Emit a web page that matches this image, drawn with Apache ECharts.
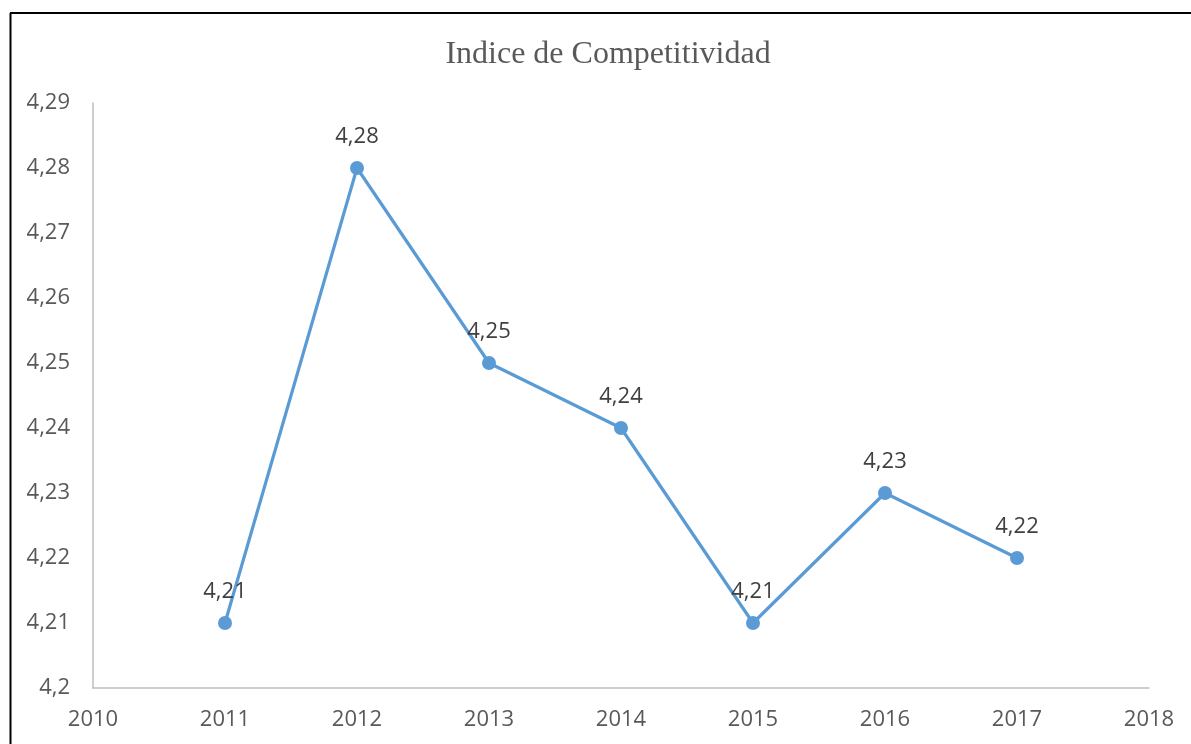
<!DOCTYPE html>
<html>
<head>
<meta charset="utf-8">
<script src="https://cdn.jsdelivr.net/npm/echarts@6/dist/echarts.min.js"></script>
<style>
html,body{margin:0;padding:0;background:#fff;}
#chart{width:1191px;height:744px;}
</style>
</head>
<body>
<div id="chart"></div>
<script>
const titleText = 'Indice de Competitividad';
const years = [2011, 2012, 2013, 2014, 2015, 2016, 2017];
const values = [4.21, 4.28, 4.25, 4.24, 4.21, 4.23, 4.22];
const xMin = 2010, xMax = 2018;
const yMin = 4.20, yMax = 4.29, yStep = 0.01;

const fmt = v => parseFloat(Number(v).toFixed(2)).toString().replace('.', ',');

const chart = echarts.init(document.getElementById('chart'), null, {renderer: 'canvas'});
chart.setOption({
  animation: false,
  backgroundColor: '#ffffff',
  title: {
    text: titleText,
    left: 603, top: 34,
    textAlign: 'center',
    textStyle: {fontFamily: 'Liberation Serif', fontSize: 32, fontWeight: 'normal', color: '#595959'}
  },
  grid: {left: 93, right: 42, top: 103, bottom: 56, containLabel: false},
  xAxis: {
    type: 'value', min: xMin, max: xMax, interval: 1,
    axisLine: {show: true, lineStyle: {color: '#bfbfbf', width: 1.5}},
    axisTick: {show: false},
    splitLine: {show: false},
    axisLabel: {fontFamily: 'Open Sans', fontSize: 22, color: '#595959', margin: 21, formatter: v => String(v)}
  },
  yAxis: {
    type: 'value', min: yMin, max: yMax, interval: yStep,
    axisLine: {show: true, lineStyle: {color: '#bfbfbf', width: 1.5}},
    axisTick: {show: false},
    splitLine: {show: false},
    axisLabel: {fontFamily: 'Open Sans', fontSize: 22, color: '#595959', margin: 23, formatter: fmt}
  },
  series: [{
    type: 'line',
    data: years.map((y, i) => [y, values[i]]),
    symbol: 'circle', symbolSize: 14,
    lineStyle: {color: '#5b9bd5', width: 3.2},
    itemStyle: {color: '#5b9bd5'},
    label: {
      show: true, position: 'top', distance: 13,
      fontFamily: 'Open Sans', fontSize: 22, color: '#404040',
      formatter: p => fmt(p.value[1])
    }
  }],
  graphic: [
    {type: 'line', shape: {x1: 10.5, y1: 13, x2: 10.5, y2: 760}, style: {stroke: '#000', lineWidth: 2}},
    {type: 'line', shape: {x1: 10, y1: 13, x2: 1191, y2: 13}, style: {stroke: '#000', lineWidth: 2}}
  ]
});
</script>
</body>
</html>
